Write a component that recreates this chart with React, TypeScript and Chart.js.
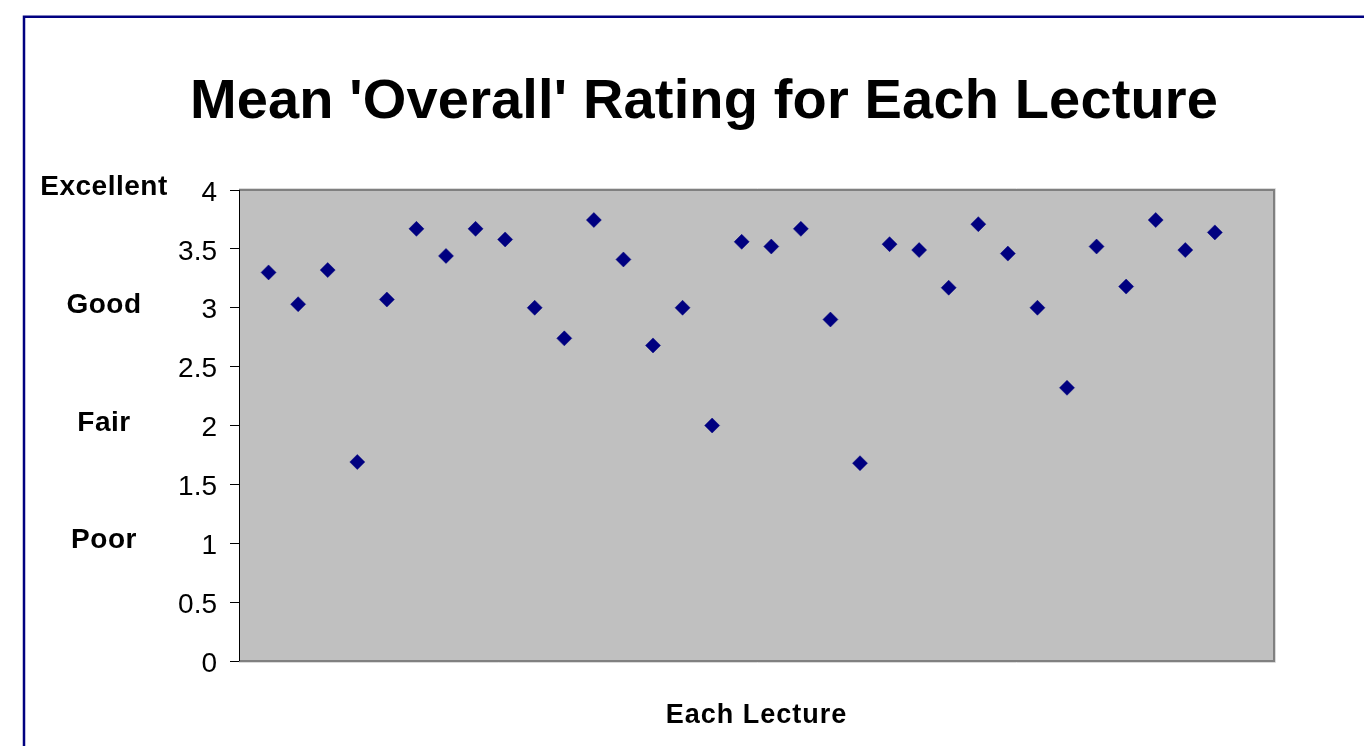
import React, { useEffect, useRef } from "react";
import { Chart, registerables } from "chart.js";

Chart.register(...registerables);

const lectures: number[] = [
  1, 2, 3, 4, 5, 6, 7, 8, 9, 10, 11, 12, 13, 14, 15, 16, 17, 18, 19, 20, 21, 22, 23, 24, 25, 26, 27, 28, 29, 30, 31, 32, 33,
];
const meanOverall: number[] = [
  3.3, 3.03, 3.32, 1.69, 3.07, 3.67, 3.44, 3.67, 3.58, 3.0, 2.74, 3.745, 3.41, 2.68, 3.0, 2.0, 3.56, 3.52, 3.67, 2.9, 1.68,
  3.54, 3.49, 3.17, 3.71, 3.46, 3.0, 2.32, 3.52, 3.18, 3.745, 3.49, 3.64,
];
const ratingWords: string[] = ["Excellent", "Good", "Fair", "Poor"];
const ratingValues: number[] = [4, 3, 2, 1];
const titleText = "Mean 'Overall' Rating for Each Lecture";
const xTitleText = "Each Lecture";

const FONT = "'Liberation Sans', Arial, Helvetica, sans-serif";

const decorPlugin = {
  id: "decor",
  beforeDraw(chart: any) {
    const { ctx, chartArea } = chart;
    ctx.save();
    ctx.strokeStyle = "#000080";
    ctx.lineWidth = 2.5;
    ctx.beginPath();
    ctx.moveTo(24, 760);
    ctx.lineTo(24, 16.8);
    ctx.lineTo(1380, 16.8);
    ctx.stroke();
    ctx.fillStyle = "#C0C0C0";
    ctx.fillRect(chartArea.left, chartArea.top, chartArea.right - chartArea.left, chartArea.bottom - chartArea.top);
    ctx.restore();
  },
  beforeDatasetsDraw(chart: any) {
    const { ctx, chartArea } = chart;
    ctx.save();
    ctx.strokeStyle = "#DADADA";
    ctx.lineWidth = 1;
    ctx.beginPath();
    ctx.moveTo(chartArea.left, chartArea.top - 1.5);
    ctx.lineTo(chartArea.right + 1.5, chartArea.top - 1.5);
    ctx.lineTo(chartArea.right + 1.5, chartArea.bottom + 1.5);
    ctx.lineTo(chartArea.left, chartArea.bottom + 1.5);
    ctx.stroke();
    ctx.strokeStyle = "#808080";
    ctx.lineWidth = 2;
    ctx.beginPath();
    ctx.moveTo(chartArea.left, chartArea.top);
    ctx.lineTo(chartArea.right, chartArea.top);
    ctx.lineTo(chartArea.right, chartArea.bottom);
    ctx.lineTo(chartArea.left, chartArea.bottom);
    ctx.stroke();
    ctx.strokeStyle = "#000000";
    ctx.lineWidth = 1;
    ctx.beginPath();
    ctx.moveTo(chartArea.left + 0.5, chartArea.top);
    ctx.lineTo(chartArea.left + 0.5, chartArea.bottom);
    ctx.stroke();
    ctx.restore();
  },
  afterDraw(chart: any) {
    const { ctx, chartArea } = chart;
    const y = chart.scales.y;
    ctx.save();
    ctx.fillStyle = "#000000";
    ctx.textAlign = "center";
    ctx.textBaseline = "alphabetic";
    ctx.font = `bold 56px ${FONT}`;
    (ctx as any).letterSpacing = "0.15px";
    ctx.fillText(titleText, 704, 118);
    ctx.font = `bold 28px ${FONT}`;
    (ctx as any).letterSpacing = "0.5px";
    ratingWords.forEach((w, i) => {
      ctx.fillText(w, 104, y.getPixelForValue(ratingValues[i]) + 5);
    });
    ctx.font = `bold 27px ${FONT}`;
    (ctx as any).letterSpacing = "1px";
    ctx.fillText(xTitleText, (chartArea.left + chartArea.right) / 2, 723);
    ctx.restore();
  },
};

export default function App() {
  const canvasRef = useRef<HTMLCanvasElement | null>(null);

  useEffect(() => {
    document.body.style.margin = "0";
    const canvas = canvasRef.current;
    if (!canvas) return;
    const chart = new Chart(canvas, {
      type: "scatter",
      data: {
        datasets: [
          {
            label: "Mean Overall",
            data: lectures.map((x, i) => ({ x, y: meanOverall[i] })),
            pointStyle: "rectRot",
            pointRadius: 7.5,
            pointBorderWidth: 0.5,
            backgroundColor: "#000080",
            borderColor: "#000080",
          },
        ],
      },
      options: {
        responsive: false,
        animation: false,
        devicePixelRatio: 1,
        layout: { padding: { top: 190, bottom: 85, right: 90, left: 0 } },
        plugins: {
          legend: { display: false },
          title: { display: false },
          tooltip: { enabled: false },
        },
        scales: {
          x: {
            type: "linear",
            min: 0,
            max: 35,
            display: false,
          },
          y: {
            type: "linear",
            min: 0,
            max: 4,
            afterFit: (scale: any) => {
              scale.width = 239;
            },
            ticks: {
              stepSize: 0.5,
              color: "#000000",
              padding: 13,
              labelOffset: 3,
              font: { family: FONT, size: 28 },
              callback: (v: any) => String(v),
            },
            grid: {
              drawOnChartArea: false,
              drawTicks: true,
              tickLength: 9,
              color: "#000000",
              lineWidth: 1,
            },
            border: { display: false },
          },
        },
      },
      plugins: [decorPlugin],
    });
    return () => chart.destroy();
  }, []);

  return (
    <div style={{ position: "absolute", left: 0, top: 0, width: 1364, height: 746, background: "#ffffff" }}>
      <canvas ref={canvasRef} width={1364} height={746} style={{ display: "block" }} />
    </div>
  );
}
